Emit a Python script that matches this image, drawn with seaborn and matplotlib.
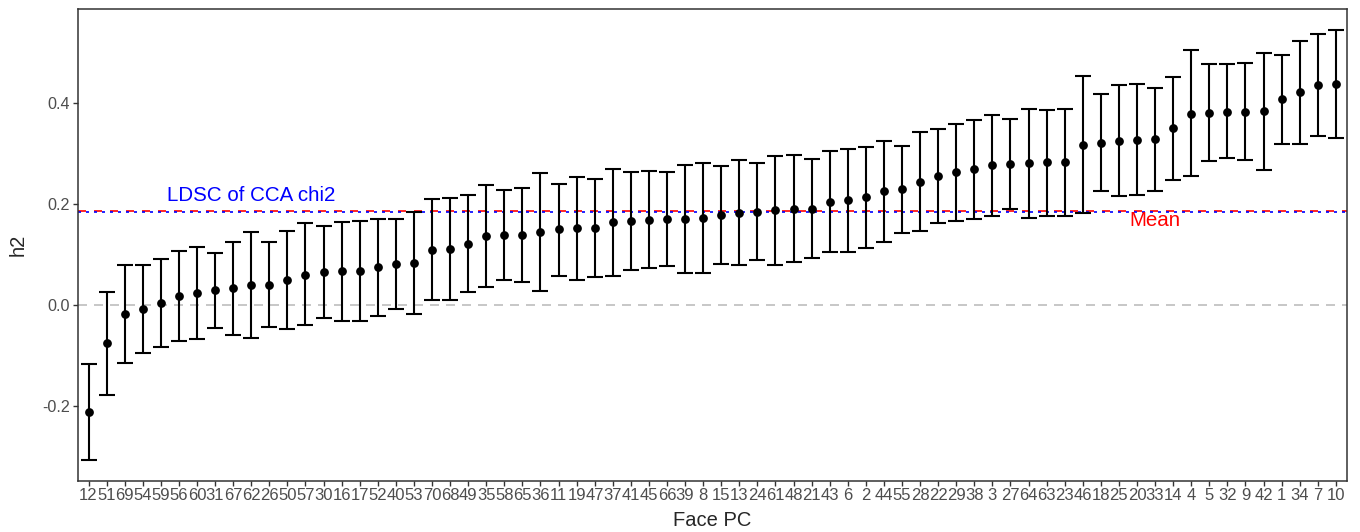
import numpy as np
import pandas as pd
import seaborn as sns
import matplotlib
matplotlib.use('Agg')
from matplotlib import pyplot as plt

# face PCs, sorted by h2 estimate
pcs = [12, 51, 69, 54, 59, 56, 60, 31, 67, 62, 26, 50, 57, 30, 16, 17, 52, 40, 53, 70,
       68, 49, 35, 58, 65, 36, 11, 19, 47, 37, 41, 45, 66, 39, 8, 15, 13, 24, 61, 48,
       21, 43, 6, 2, 44, 55, 28, 22, 29, 38, 3, 27, 64, 63, 23, 46, 18, 25, 20, 33,
       14, 4, 5, 32, 9, 42, 1, 34, 7, 10]

h2 = [-0.213, -0.076, -0.017, -0.009, 0.003, 0.018, 0.023, 0.029, 0.033, 0.039,
      0.040, 0.049, 0.060, 0.066, 0.067, 0.068, 0.075, 0.082, 0.083, 0.109,
      0.111, 0.122, 0.136, 0.139, 0.139, 0.144, 0.150, 0.152, 0.153, 0.164,
      0.166, 0.169, 0.170, 0.170, 0.173, 0.178, 0.182, 0.185, 0.189, 0.191,
      0.191, 0.205, 0.208, 0.214, 0.226, 0.230, 0.245, 0.256, 0.264, 0.269,
      0.277, 0.279, 0.281, 0.283, 0.283, 0.318, 0.322, 0.326, 0.328, 0.329,
      0.351, 0.380, 0.382, 0.384, 0.384, 0.385, 0.409, 0.422, 0.436, 0.439]

h2_lo = [-0.307, -0.179, -0.115, -0.095, -0.084, -0.071, -0.068, -0.045, -0.059, -0.065,
         -0.043, -0.048, -0.040, -0.025, -0.031, -0.032, -0.021, -0.009, -0.017, 0.009,
         0.010, 0.025, 0.036, 0.050, 0.046, 0.027, 0.058, 0.050, 0.055, 0.058,
         0.070, 0.073, 0.077, 0.064, 0.064, 0.081, 0.079, 0.089, 0.080, 0.085,
         0.094, 0.106, 0.105, 0.114, 0.124, 0.142, 0.146, 0.162, 0.166, 0.170,
         0.177, 0.190, 0.172, 0.177, 0.177, 0.182, 0.226, 0.216, 0.218, 0.227,
         0.248, 0.256, 0.286, 0.291, 0.288, 0.268, 0.320, 0.320, 0.336, 0.331]

h2_hi = [-0.118, 0.026, 0.080, 0.079, 0.092, 0.107, 0.116, 0.104, 0.124, 0.144,
         0.125, 0.146, 0.162, 0.157, 0.164, 0.167, 0.171, 0.171, 0.185, 0.210,
         0.212, 0.219, 0.238, 0.228, 0.232, 0.262, 0.241, 0.254, 0.250, 0.270,
         0.264, 0.265, 0.263, 0.277, 0.281, 0.276, 0.287, 0.281, 0.296, 0.297,
         0.289, 0.305, 0.310, 0.314, 0.326, 0.316, 0.343, 0.349, 0.360, 0.367,
         0.377, 0.369, 0.390, 0.387, 0.389, 0.455, 0.419, 0.437, 0.438, 0.430,
         0.453, 0.506, 0.479, 0.478, 0.481, 0.500, 0.497, 0.524, 0.538, 0.546]

mean_h2 = 0.187
ldsc_h2 = 0.184

df = pd.DataFrame(dict(pc=[str(p) for p in pcs], h2=h2, lo=h2_lo, hi=h2_hi))

sns.set_style('ticks')
plt.rcParams['font.family'] = ['Liberation Sans', 'DejaVu Sans']
plt.rcParams['axes.unicode_minus'] = False

fig = plt.figure(figsize=(13.6, 5.32), dpi=100)
ax = fig.add_axes([0.0571, 0.0964, 0.9331, 0.8861])

ax.axhline(0, color='#BEBEBE', lw=1.2, ls=(0, (5.4, 4.2)), zorder=1)
ax.axhline(mean_h2, color='red', lw=1.2, ls=(0, (4.8, 4.8)), zorder=2)
ax.axhline(ldsc_h2, color='blue', lw=1.2, ls=(0, (1.8, 3.0)), zorder=2)

xpos = np.arange(len(df))
ax.errorbar(xpos, df['h2'], yerr=[df['h2'] - df['lo'], df['hi'] - df['h2']],
            fmt='none', ecolor='black', elinewidth=1.5, capsize=5.6, capthick=1.5, zorder=3)
sns.stripplot(data=df, x='pc', y='h2', order=df['pc'], jitter=False, color='black',
              size=6.3, linewidth=0, ax=ax, zorder=4)

ax.text(9, 0.218, 'LDSC of CCA chi2', color='blue', fontsize=14.8, ha='center', va='center')
ax.text(59, 0.168, 'Mean', color='red', fontsize=14.8, ha='center', va='center')

ax.set_xlim(-0.6, len(df) - 0.4)
ax.set_ylim(-0.349, 0.587)
ax.set_yticks([-0.2, 0.0, 0.2, 0.4])
ax.set_yticklabels(['-0.2', '0.0', '0.2', '0.4'])
ax.tick_params(axis='both', colors='#333333', labelcolor='#4D4D4D', labelsize=11.6,
               length=3.6, width=1, pad=2)
ax.tick_params(axis='x', labelsize=12)
for s in ax.spines.values():
    s.set_color('#333333')
    s.set_linewidth(1.1)
ax.set_xlabel('Face PC', fontsize=14.5, labelpad=5.5)
ax.set_ylabel('h2', fontsize=14.5, labelpad=10)

fig.savefig('out.png', dpi=100)
